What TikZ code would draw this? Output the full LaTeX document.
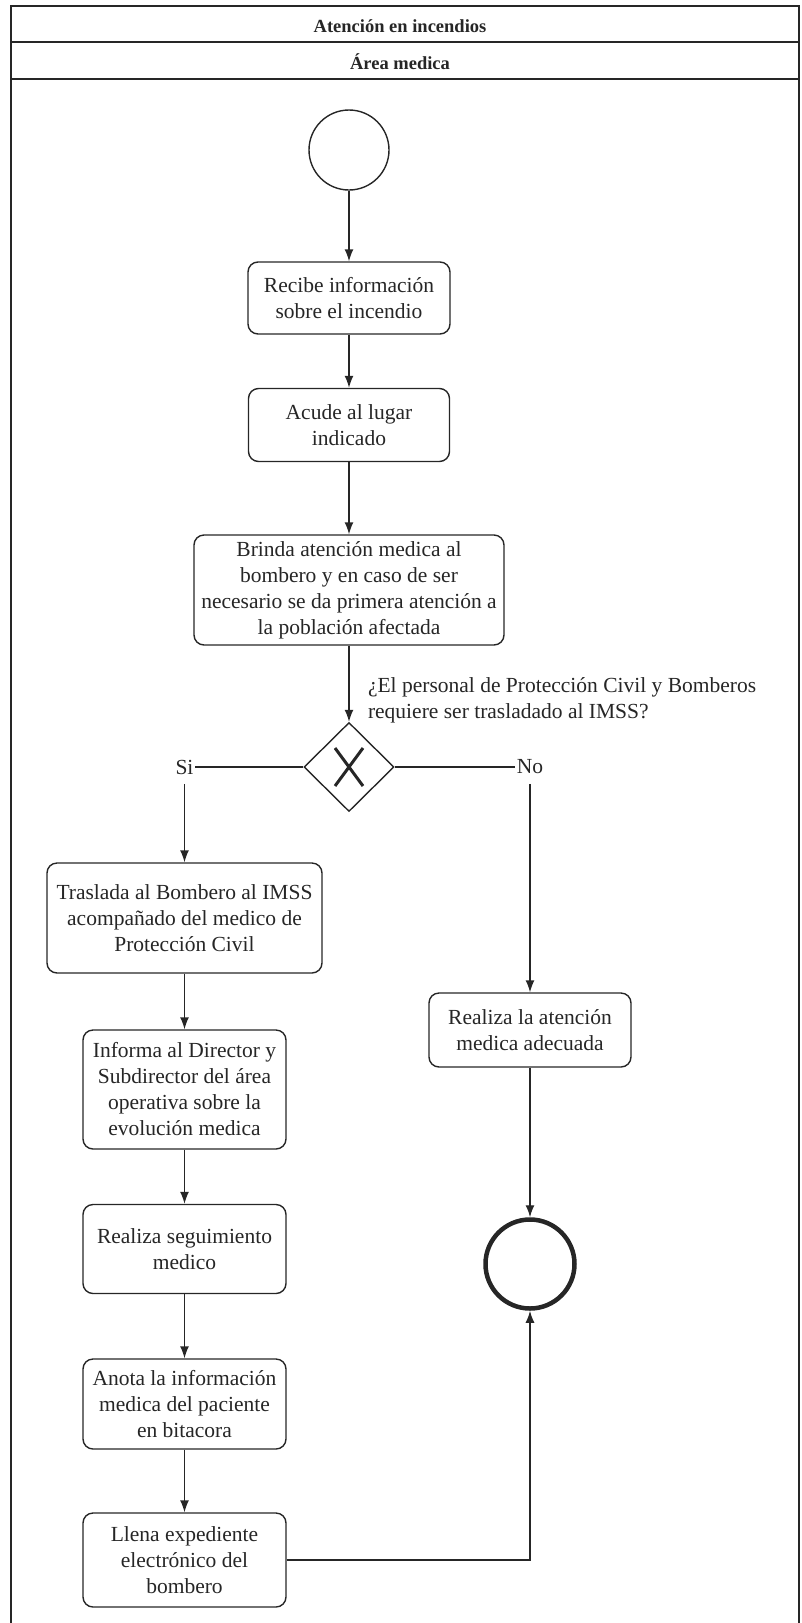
\documentclass[tikz,border=0pt]{standalone}
\usepackage{fontspec}
\setmainfont{Liberation Serif}
\usetikzlibrary{positioning,arrows.meta,shapes.geometric}

\tikzset{
  paso/.style={draw, rounded corners=10pt, align=center, inner sep=3pt},
  inicio/.style={draw, circle, minimum size=80pt, inner sep=0pt},
  fin/.style={draw, circle, line width=4.5pt, minimum size=89pt, inner sep=0pt},
  compuerta/.style={draw, diamond, minimum width=90pt, minimum height=89pt, inner sep=0pt},
  rama/.style={inner xsep=1pt, inner ysep=9pt},
  titulo/.style={font=\fontsize{18.5}{22}\selectfont\bfseries},
}

\begin{document}
\begin{tikzpicture}[x=1pt, y=-1pt, >={Latex[length=12pt,width=9pt]},
    font=\fontsize{21.5}{26}\selectfont, line width=1.4pt, color=black!85]
  \useasboundingbox (0,0) rectangle (801,1623);
  % marco del carril
  \draw (11,1623) -- (11,6) -- (799,6) -- (799,1623);
  \draw[line width=1.8pt] (11,42) -- (799,42);
  \draw[line width=1.8pt] (11,79) -- (799,79);
  \node[titulo] (proceso) at (400,26) {Atención en incendios};
  \node[titulo] (area) at (400,62) {Área medica};

  % columna central
  \node[inicio] (inicio) at (349,150) {};
  \node[paso, minimum width=202pt, minimum height=72pt] (recibe) at (349,298)
    {Recibe información\\sobre el incendio};
  \node[paso, minimum width=201pt, minimum height=73pt] (acude) at (349,425)
    {Acude al lugar\\indicado};
  \node[paso, minimum width=310pt, minimum height=110pt] (brinda) at (349,590)
    {Brinda atención medica al\\bombero y en caso de ser\\necesario se da primera atención a\\la población afectada};
  \node[compuerta] (decision) at (349,767) {};
  \draw[line width=3pt] ([shift={(-14,-19)}]decision.center) -- ([shift={(14,19)}]decision.center);
  \draw[line width=3pt] ([shift={(-14,19)}]decision.center) -- ([shift={(14,-19)}]decision.center);
  \node[anchor=west, align=left] (pregunta) at (364,700)
    {¿El personal de Protección Civil y Bomberos\\requiere ser trasladado al IMSS?};
  \node[rama] (si) at (184.5,767) {Si};
  \node[rama] (no) at (530,767) {No};

  % rama Si
  \node[paso, minimum width=275pt, minimum height=110pt] (traslada) at (184.5,918)
    {Traslada al Bombero al IMSS\\acompañado del medico de\\Protección Civil};
  \node[paso, minimum width=203pt, minimum height=119pt] (informa) at (184.5,1089.5)
    {Informa al Director y\\Subdirector del área\\operativa sobre la\\evolución medica};
  \node[paso, minimum width=203pt, minimum height=89pt] (seguimiento) at (184.5,1249)
    {Realiza seguimiento\\medico};
  \node[paso, minimum width=203pt, minimum height=90pt] (anota) at (184.5,1404)
    {Anota la información\\medica del paciente\\en bitacora};
  \node[paso, minimum width=203pt, minimum height=94pt] (llena) at (184.5,1560)
    {Llena expediente\\electrónico del\\bombero};

  % rama No
  \node[paso, minimum width=202pt, minimum height=74pt] (realiza) at (530,1030)
    {Realiza la atención\\medica adecuada};
  \node[fin] (fin) at (530,1264) {};

  \draw[->] (inicio) -- (recibe);
  \draw[->] (recibe) -- (acude);
  \draw[->] (acude) -- (brinda);
  \draw[->] (brinda) -- (decision);
  \draw (decision.west) -- (si.east);
  \draw (decision.east) -- (no.west);
  \draw[->] (si.south) -- (traslada.north);
  \draw[->] (no.south) -- (realiza.north);
  \draw[->] (traslada) -- (informa);
  \draw[->] (informa) -- (seguimiento);
  \draw[->] (seguimiento) -- (anota);
  \draw[->] (anota) -- (llena);
  \draw[->] (realiza) -- (fin);
  \draw[->] (llena.east) -| (fin.south);
\end{tikzpicture}
\end{document}
